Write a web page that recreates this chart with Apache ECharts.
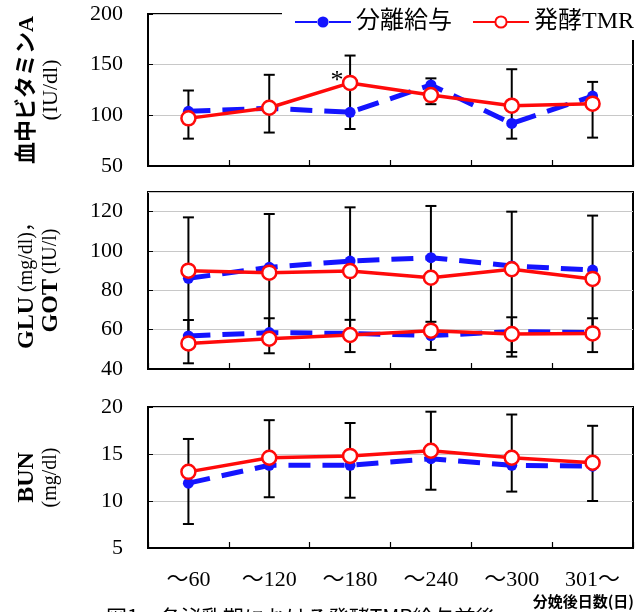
<!DOCTYPE html>
<html><head><meta charset="utf-8">
<script src="https://cdn.jsdelivr.net/npm/echarts@6/dist/echarts.min.js"></script>
<style>html,body{margin:0;padding:0;background:#fff}#c{width:644px;height:612px}</style>
</head><body><div id="c"></div>
<script>
const categories = ['～60','～120','～180','～240','～300','301～'];
const seriesNames = ['分離給与','発酵TMR'];
// 血中ビタミンA (IU/dl)
const vitA_sep = [104, 107, 103, 130, 92, 119];
const vitA_tmr = [97, 107.5, 132, 120, 109.5, 111.5];
const vitA_errHigh = [124.5, 140, 159, 136.5, 145.5, 133];
const vitA_errLow = [77, 83, 86.5, 111, 77, 78];
// GLU (mg/dl)
const glu_sep = [86.1, 91.7, 94.9, 96.6, 92.4, 90.3];
const glu_tmr = [90, 89, 89.8, 86.4, 90.7, 85.8];
const glu_errHigh = [117.1, 118.8, 122.2, 122.9, 120, 118];
const glu_errLow = [57, 58, 58, 58, 48.6, 58];
// GOT (IU/l)
const got_sep = [56.8, 58.5, 58.1, 57, 59, 58.5];
const got_tmr = [53, 55.4, 57.3, 59.5, 57.8, 58.1];
const got_errHigh = [64.9, 65.8, 65, 64, 66.3, 65.8];
const got_errLow = [42.9, 48, 48.6, 49.7, 46.3, 48.6];
// BUN (mg/dl)
const bun_sep = [11.9, 13.8, 13.8, 14.5, 13.8, 13.7];
const bun_tmr = [13.1, 14.6, 14.8, 15.35, 14.6, 14.07];
const bun_errHigh = [16.6, 18.6, 18.3, 19.5, 19.2, 18];
const bun_errLow = [7.55, 10.4, 10.35, 11.2, 11, 10];
// axis ticks
const yTicksA = {min: 50, max: 200, interval: 50};
const yTicksG = {min: 40, max: 130, interval: 20};
const yTicksB = {min: 5, max: 20, interval: 5};
const xTitle = '分娩後日数(日)';
const caption = '図1　各泌乳期における発酵TMR給与前後';

const SERIF = '"Liberation Serif","Noto Sans CJK JP",serif';
const BLUE = '#1414ff', RED = '#ff0a0a';

const chart = echarts.init(document.getElementById('c'), null, {renderer: 'canvas'});

const grids = [
  {left: 148, top: 14, width: 485, height: 152},
  {left: 148, top: 192, width: 485, height: 177},
  {left: 148, top: 407, width: 485, height: 141}
].map(g => Object.assign(g, {show: true, borderColor: '#000', borderWidth: 2, backgroundColor: 'transparent'}));

function xAx(i, showLabel) {
  return {
    type: 'category', gridIndex: i, data: categories, boundaryGap: true,
    axisLine: {show: true, lineStyle: {color: '#000', width: 2}},
    axisTick: {show: true, inside: true, length: 6, lineStyle: {color: '#000', width: 1.2}},
    axisLabel: {show: showLabel, margin: 21, fontFamily: SERIF, fontSize: 22, color: '#000'},
    splitLine: {show: false}
  };
}
function yAx(i, t, name, nameRich) {
  return Object.assign({
    type: 'value', gridIndex: i,
    axisLine: {show: false},
    axisTick: {show: true, inside: true, length: 5, lineStyle: {color: '#000'}},
    axisLabel: {margin: 25, fontFamily: SERIF, fontSize: 22, color: '#000', showMaxLabel: i !== 1},
    splitLine: {show: true, lineStyle: {color: '#c8c8c8', width: 1.2}},
    name: name, nameLocation: 'middle', nameRotate: 90, nameGap: 85,
    nameTextStyle: {rich: nameRich, align: 'center'}
  }, t);
}

const richA = {
  b: {fontFamily: SERIF, fontSize: 22, fontWeight: 'bold', color: '#000', lineHeight: 24},
  s: {fontFamily: SERIF, fontSize: 22, color: '#000', lineHeight: 24}
};
const richG = {
  b: {fontFamily: SERIF, fontSize: 24, fontWeight: 'bold', color: '#000', lineHeight: 24},
  s: {fontFamily: SERIF, fontSize: 20, color: '#000', lineHeight: 24}
};

function errSeries(i, hi, lo) {
  return {
    type: 'custom', xAxisIndex: i, yAxisIndex: i, z: 1, silent: true,
    data: categories.map((c, k) => [k, hi[k], lo[k]]),
    encode: {x: 0, y: [1, 2]},
    renderItem: function (params, api) {
      const x = api.value(0);
      const p1 = api.coord([x, api.value(1)]);
      const p2 = api.coord([x, api.value(2)]);
      const w = 5.5, st = {stroke: '#000', lineWidth: 2};
      return {type: 'group', children: [
        {type: 'line', shape: {x1: p1[0], y1: p1[1], x2: p2[0], y2: p2[1]}, style: st},
        {type: 'line', shape: {x1: p1[0] - w, y1: p1[1], x2: p1[0] + w, y2: p1[1]}, style: st},
        {type: 'line', shape: {x1: p2[0] - w, y1: p2[1], x2: p2[0] + w, y2: p2[1]}, style: st}
      ]};
    }
  };
}
function sepSeries(i, data) {
  return {
    name: seriesNames[0], type: 'line', xAxisIndex: i, yAxisIndex: i, z: 3, data: data,
    symbol: 'circle', symbolSize: 11,
    lineStyle: {color: BLUE, width: 5, type: [22, 12]},
    itemStyle: {color: BLUE}
  };
}
function tmrSeries(i, data) {
  return {
    name: seriesNames[1], type: 'line', xAxisIndex: i, yAxisIndex: i, z: 4, data: data,
    symbol: 'circle', symbolSize: 14,
    lineStyle: {color: RED, width: 3.5},
    itemStyle: {color: '#fff', borderColor: RED, borderWidth: 2.5}
  };
}

const tmrA = vitA_tmr.map((v, k) => k === 2 ? {value: v, label: {show: true, formatter: '*', position: 'top', offset: [-13, 25], fontFamily: SERIF, fontSize: 26, color: '#000'}} : v);

const option = {
  animation: false,
  backgroundColor: '#fff',
  grid: grids,
  xAxis: [xAx(0, false), xAx(1, false), xAx(2, true)],
  yAxis: [
    yAx(0, yTicksA, '{b|血中ビタミンA}\n{s|(IU/dl)}', richA),
    yAx(1, yTicksG, '{b|GLU}{s| (mg/dl)，}\n{b|GOT}{s| (IU/l)}', richG),
    yAx(2, yTicksB, '{b|BUN}\n{s|(mg/dl)}', richG)
  ],
  legend: {
    data: seriesNames, right: 6, top: 6,
    itemWidth: 56, itemHeight: 14, itemGap: 20,
    backgroundColor: '#fff', padding: [4, 4, 6, 12],
    textStyle: {fontFamily: SERIF, fontSize: 24, color: '#000'}
  },
  graphic: [
    {type: 'text', right: 10, top: 594, style: {text: xTitle, fontFamily: '"Noto Sans CJK JP",sans-serif', fontSize: 15, fontWeight: 'bold', fill: '#000'}},
    {type: 'text', left: 106, top: 607, style: {text: caption, fontFamily: '"Noto Sans CJK JP",sans-serif', fontSize: 21, fill: '#000'}}
  ],
  series: [
    errSeries(0, vitA_errHigh, vitA_errLow),
    sepSeries(0, vitA_sep),
    tmrSeries(0, tmrA),
    errSeries(1, glu_errHigh, glu_errLow),
    errSeries(1, got_errHigh, got_errLow),
    sepSeries(1, glu_sep),
    tmrSeries(1, glu_tmr),
    sepSeries(1, got_sep),
    tmrSeries(1, got_tmr),
    errSeries(2, bun_errHigh, bun_errLow),
    sepSeries(2, bun_sep),
    tmrSeries(2, bun_tmr)
  ]
};
chart.setOption(option);
</script></body></html>
